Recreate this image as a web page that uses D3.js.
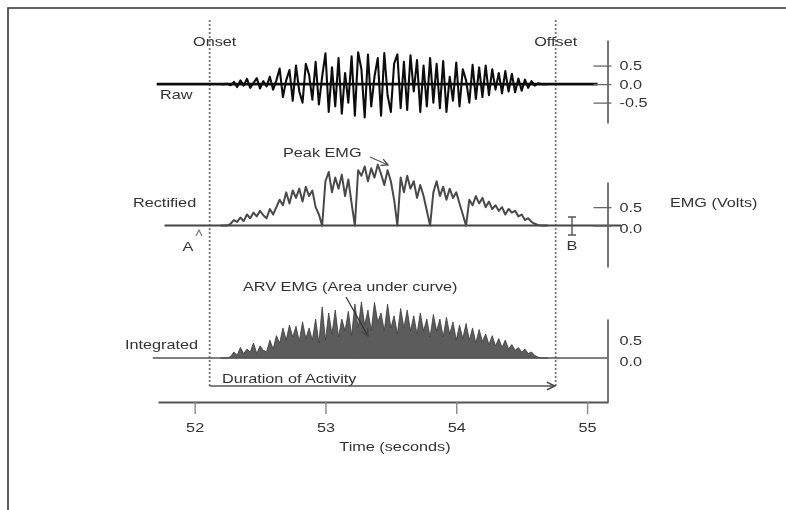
<!DOCTYPE html>
<html><head><meta charset="utf-8">
<script src="https://cdn.jsdelivr.net/npm/d3@7"></script>
<style>
body{margin:0;background:#fff}
svg{display:block}
text{font-family:"Liberation Sans",Arial,Helvetica,sans-serif;font-size:13px;fill:#333}
</style>
</head><body>
<svg id="chart" width="786" height="510"></svg>
<script>
// ---------- data ----------
const timeTicks = [52, 53, 54, 55];
const rawTicks = [-0.5, 0, 0.5];
const rectTicks = [0, 0.5];
const intTicks = [0, 0.5];
const onsetTime = 52.115;
const offsetTime = 54.76;

const sampleTime = [
52.200,52.225,52.250,52.275,52.300,52.325,52.350,52.375,52.400,52.425,
52.450,52.475,52.500,52.525,52.550,52.575,52.600,52.625,52.650,52.675,
52.700,52.725,52.750,52.775,52.800,52.825,52.850,52.875,52.900,52.925,
52.950,52.975,53.000,53.025,53.050,53.075,53.100,53.125,53.150,53.175,
53.200,53.225,53.250,53.275,53.300,53.325,53.350,53.375,53.400,53.425,
53.450,53.475,53.500,53.525,53.550,53.575,53.600,53.625,53.650,53.675,
53.700,53.725,53.750,53.775,53.800,53.825,53.850,53.875,53.900,53.925,
53.950,53.975,54.000,54.025,54.050,54.075,54.100,54.125,54.150,54.175,
54.200,54.225,54.250,54.275,54.300,54.325,54.350,54.375,54.400,54.425,
54.450,54.475,54.500,54.525,54.550,54.575,54.600,54.625,54.650,54.675,
54.700];

const rawEMG = [
0,0,0.01,-0.03,
0.06,-0.08,0.1,-0.04,0.14,-0.1,0.03,0.16,-0.12,0.08,-0.06,0.2,-0.15,0.1,
0.42,-0.35,0.1,0.38,-0.45,0.5,-0.2,-0.5,0.55,0.25,-0.42,0.6,-0.55,0.2,0.83,-0.75,0.45,-0.6,
0.7,-0.8,0.3,-0.5,0.75,-0.85,0.86,0.4,-0.9,0.8,-0.6,0.2,0.7,-0.85,0.84,-0.3,-0.75,0.55,0.8,-0.65,0.6,-0.7,0.78,-0.2,0.65,-0.75,0.5,-0.6,0.7,-0.5,
0.55,-0.65,0.62,-0.75,0.2,-0.45,0.58,-0.6,0.4,0.1,-0.5,0.52,-0.4,0.45,-0.35,
0.5,-0.3,0.4,-0.15,0.3,-0.25,0.35,-0.2,0.28,-0.22,0.15,-0.18,0.12,-0.1,0.08,-0.04,0.02,
0,0,0];

const rectifiedEMG = [
0,0,0,
0.05,0.15,0.1,0.22,0.12,0.3,0.2,0.35,0.25,0.4,0.28,0.2,0.45,0.3,0.5,
0.7,0.55,0.9,0.6,0.95,0.75,1.0,0.65,1.05,0.8,0.95,0.5,0.3,
0,
1.2,1.45,0.9,1.3,1.0,1.38,0.8,1.25,0.6,
0,
1.5,1.35,1.6,1.2,1.55,1.3,1.65,1.4,1.1,1.5,1.2,0.7,
0,
1.3,0.9,1.35,1.0,1.2,0.75,1.1,0.8,0.4,
0,
0.9,1.2,0.8,1.05,0.7,1.0,0.75,0.9,0.6,0.3,
0,
0.7,0.55,0.8,0.6,0.75,0.5,0.65,0.45,0.55,
0.4,0.5,0.3,0.45,0.35,0.4,0.25,0.3,0.15,0.2,0.1,0.05,0.02,
0,0,0];

const integratedEMG = [
0,0,0,
0.05,0.19,0.09,0.33,0.14,0.28,0.19,0.47,0.14,0.38,0.24,0.19,0.56,0.28,0.7,
0.47,0.94,0.56,1.03,0.66,0.99,0.52,1.13,0.61,0.94,0.56,1.22,0.47,
1.6,0.56,1.41,0.75,1.5,0.66,1.22,0.85,1.46,0.7,
1.69,0.94,1.75,1.03,1.5,0.85,1.74,1.13,1.41,0.85,1.69,0.94,1.32,
0.75,1.55,0.94,1.5,0.85,1.32,0.75,1.41,0.85,1.22,
0.66,1.36,0.85,1.22,0.66,1.27,0.75,1.13,0.56,1.03,0.61,
1.08,0.56,0.94,0.47,0.89,0.52,0.75,0.42,0.7,0.38,0.61,
0.33,0.56,0.28,0.42,0.24,0.33,0.19,0.28,0.14,0.19,0.08,0.03,
0,0,0];

// ---------- layout ----------
const svg = d3.select('#chart');
const defs = svg.append('defs');
defs.append('filter').attr('id','soft').attr('x','-5%').attr('y','-5%').attr('width','110%').attr('height','110%')
  .append('feGaussianBlur').attr('stdDeviation', 0.75);
defs.append('marker').attr('id','arr').attr('viewBox','0 0 10 10').attr('refX',9).attr('refY',5)
  .attr('markerWidth',7).attr('markerHeight',7).attr('orient','auto')
  .append('path').attr('d','M1,1 L9,5 L1,9').attr('fill','none').attr('stroke','#444').attr('stroke-width',1.5);

const root = svg.append('g').attr('filter','url(#soft)');
const STR = 1.25;
function stretchText(sel){
  sel.each(function(){
    const t = d3.select(this);
    const x = +t.attr('x') || 0;
    t.attr('x', 0).attr('transform', `translate(${x},0) scale(${STR},1)`);
  });
}
function label(str, x, y, anchor){
  return root.append('text').attr('transform', `translate(${x},${y}) scale(${STR},1)`)
    .attr('text-anchor', anchor || 'start').text(str);
}

// frame
root.append('path').attr('d','M8,510 L8,8 L786,8').attr('fill','none').attr('stroke','#333').attr('stroke-width',1.6);

const x = d3.scaleLinear().domain([51.72, 55.16]).range([158, 608]);
const yRaw = d3.scaleLinear().domain([-1.05, 1.19]).range([123, 40]);
const yRect = d3.scaleLinear().domain([-1.12, 1.18]).range([267, 182]);
const yInt = d3.scaleLinear().domain([-1.375, 1.22]).range([402, 319]);
const axisX = 607.5;
const fmt = d => d.toFixed(1);

// onset / offset dotted lines
[onsetTime, offsetTime].forEach(t => {
  root.append('line').attr('x1', x(t)).attr('x2', x(t)).attr('y1', 20).attr('y2', 388)
    .attr('stroke','#777').attr('stroke-width',1.8).attr('stroke-dasharray','2,2');
});

// ---------- Raw ----------
root.append('line').attr('x1', x(51.71)).attr('x2', x(55.08)).attr('y1', yRaw(0)).attr('y2', yRaw(0))
  .attr('stroke','#111').attr('stroke-width',2.6);
root.append('path').datum(sampleTime)
  .attr('d', d3.line().x(d => x(d)).y((d,i) => yRaw(rawEMG[i])))
  .attr('fill','none').attr('stroke','#111').attr('stroke-width',2.1).attr('stroke-linejoin','round');
const gRaw = root.append('g').attr('transform', `translate(${axisX},0)`)
  .call(d3.axisRight(yRaw).tickValues(rawTicks).tickFormat(fmt).tickSizeInner(-14).tickSizeOuter(0).tickPadding(12));
gRaw.select('.domain').attr('stroke','#666').attr('stroke-width',1.8);
gRaw.selectAll('.tick line').attr('x1',4).attr('stroke','#666').attr('stroke-width',1.3);
gRaw.selectAll('.tick text').attr('font-size',13).attr('font-family',null).attr('fill','#333').call(stretchText);

// ---------- Rectified ----------
root.append('line').attr('x1', x(51.77)).attr('x2', x(55.26)).attr('y1', yRect(0)).attr('y2', yRect(0))
  .attr('stroke','#444').attr('stroke-width',2);
root.append('path').datum(sampleTime)
  .attr('d', d3.line().x(d => x(d)).y((d,i) => yRect(rectifiedEMG[i])))
  .attr('fill','none').attr('stroke','#4a4a4a').attr('stroke-width',2).attr('stroke-linejoin','round');
const gRect = root.append('g').attr('transform', `translate(${axisX},0)`)
  .call(d3.axisRight(yRect).tickValues(rectTicks).tickFormat(fmt).tickSizeInner(-14).tickSizeOuter(0).tickPadding(12));
gRect.select('.domain').attr('stroke','#666').attr('stroke-width',1.8);
gRect.selectAll('.tick line').attr('x1',4).attr('stroke','#666').attr('stroke-width',1.3);
gRect.selectAll('.tick text').attr('font-size',13).attr('font-family',null).attr('fill','#333')
  .attr('dy', d => d === 0 ? '0.55em' : '0.32em').call(stretchText);

// ---------- Integrated ----------
root.append('path').datum(sampleTime)
  .attr('d', d3.area().x(d => x(d)).y0(yInt(0)).y1((d,i) => yInt(integratedEMG[i])))
  .attr('fill','#5c5c5c').attr('stroke','#3c3c3c').attr('stroke-width',0.8);
root.append('line').attr('x1', x(51.68)).attr('x2', x(55.16)).attr('y1', yInt(0)).attr('y2', yInt(0))
  .attr('stroke','#555').attr('stroke-width',1.6);
const gInt = root.append('g').attr('transform', `translate(${axisX},0)`)
  .call(d3.axisRight(yInt).tickValues(intTicks).tickFormat(fmt).tickSizeInner(0).tickSizeOuter(0).tickPadding(12));
gInt.select('.domain').attr('stroke','#666').attr('stroke-width',1.8);
gInt.selectAll('.tick line').remove();
gInt.selectAll('.tick text').attr('font-size',13).attr('font-family',null).attr('fill','#333')
  .attr('dy', d => d === 0 ? '0.6em' : '0.2em').call(stretchText);

// ---------- Time axis ----------
const gX = root.append('g').attr('transform','translate(0,402)')
  .call(d3.axisBottom(x).tickValues(timeTicks).tickFormat(d3.format('d')).tickSize(12).tickSizeOuter(0).tickPadding(9));
gX.select('.domain').attr('stroke','#555').attr('stroke-width',1.8);
gX.selectAll('.tick line').attr('stroke','#888').attr('stroke-width',1.4);
gX.selectAll('.tick text').attr('font-size',13).attr('font-family',null).attr('fill','#333').call(stretchText);

// ---------- annotations ----------
label('Onset', x(onsetTime) + 5, 46, 'middle');
label('Offset', x(offsetTime), 46, 'middle');
label('Raw', 160, 99);
label('Rectified', 133, 207);
label('Integrated', 125, 349);
label('Peak EMG', 283, 157);
root.append('line').attr('x1',370).attr('y1',157).attr('x2',388).attr('y2',165)
  .attr('stroke','#555').attr('stroke-width',1.2).attr('marker-end','url(#arr)');
label('A', 188, 251, 'middle');
root.append('path').attr('d','M196,236 L199,230 L202,236').attr('fill','none').attr('stroke','#777').attr('stroke-width',1.2);
label('B', 572, 250, 'middle');
root.append('path').attr('d','M568,217 L576,217 M572,217 L572,235 M568,235 L576,235')
  .attr('fill','none').attr('stroke','#555').attr('stroke-width',1.4);
label('EMG (Volts)', 670, 207);
label('ARV EMG (Area under curve)', 243, 291);
root.append('line').attr('x1',346).attr('y1',297).attr('x2',368).attr('y2',336)
  .attr('stroke','#333').attr('stroke-width',1.3).attr('marker-end','url(#arr)');
label('Duration of Activity', 222, 383);
root.append('line').attr('x1', x(onsetTime)).attr('x2', x(offsetTime) - 1).attr('y1',386).attr('y2',386)
  .attr('stroke','#555').attr('stroke-width',1.4).attr('marker-end','url(#arr)');
label('Time (seconds)', 395, 451, 'middle');
</script>
</body></html>
